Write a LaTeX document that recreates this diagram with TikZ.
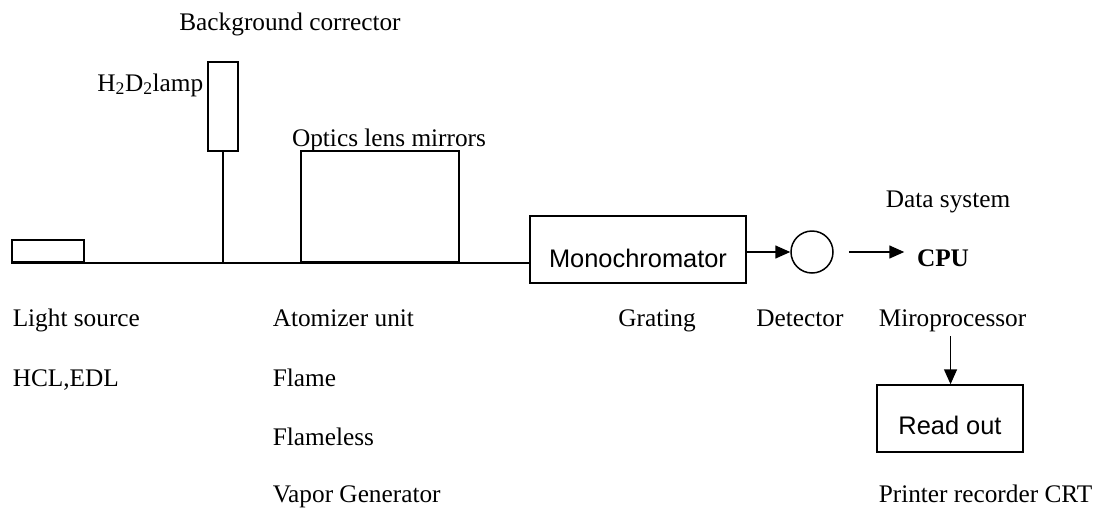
\documentclass[tikz,border=0pt]{standalone}
\usepackage{fontspec}
\setmainfont{Liberation Serif}
\setsansfont{Liberation Sans}
\usetikzlibrary{
    arrows.meta,
    calc,
    positioning
}
\tikzset{
  every path/.style={
    black,
    line width=1.5pt
  },
  box/.style={
    draw,
    rectangle,
    inner sep=0pt
  },
  lbl/.style={
    inner sep=0pt,
    font=\fontsize{25.3}{30}\selectfont
  },
  sflbl/.style={
    font=\sffamily\fontsize{25.4}{30}\selectfont
  },
  arr/.style={
    -{Triangle[length=15pt,width=13pt]}
  }
}

\begin{document}
\begin{tikzpicture}[x=1pt,y=-1pt]
    \useasboundingbox (0,0) rectangle (1099,509);

    % 箱
    \node[box,minimum width=72pt,minimum height=22pt] (src) at (48,251) {};
    \node[box,minimum width=30pt,minimum height=89pt] (lamp) at (223,106.5) {};
    \node[box,minimum width=158pt,minimum height=111pt] (optics) at (380,206.5) {};
    \node[box,sflbl,minimum width=216pt,minimum height=67pt,text height=35pt,text depth=0pt] (mono) at (638,249.5) {Monochromator};
    \node[draw,circle,minimum size=42pt,inner sep=0pt] (det) at (812,252) {};
    \node[box,sflbl,minimum width=146pt,minimum height=67pt,text height=31pt,text depth=0pt] (readout) at (950,418.5) {Read out};

    % 上の文字
    \node[lbl,anchor=base] (bgc) at (290,30) {Background corrector};
    \node[lbl,anchor=base east] (lamptxt) at (204,91) {H\textsubscript{2}D\textsubscript{2}lamp};
    \node[lbl,anchor=base] (optxt) at (389,146) {Optics lens mirrors};
    \node[lbl,anchor=base] (data) at (948,207) {Data system};
    \node[lbl,anchor=base] (cpu) at (943,266) {\textbf{CPU}};

    % 下の文字
    \node[lbl,anchor=base west] (srctxt) at (12,326) {Light source};
    \node[lbl,anchor=base west] (hcl) at (12,386) {HCL,EDL};
    \node[lbl,anchor=base west] (atom) at (272,326) {Atomizer unit};
    \node[lbl,anchor=base west] (flame) at (272,386) {Flame};
    \node[lbl,anchor=base west] (flameless) at (272,445) {Flameless};
    \node[lbl,anchor=base west] (vapor) at (272,502) {Vapor Generator};
    \node[lbl,anchor=base] (grating) at (657,326) {Grating};
    \node[lbl,anchor=base] (dettxt) at (800,326) {Detector};
    \node[lbl,anchor=base west] (micro) at (878,326) {Miroprocessor};
    \node[lbl,anchor=base west] (printer) at (878,502) {Printer recorder CRT};

    % 線
    \draw (src.south west) -- (src.south west -| mono.west);
    \draw (lamp.south) -- (lamp.south |- src.south);
    \draw[arr] (mono.east |- det.west) -- (det.west);
    \draw[arr,shorten <=15pt,shorten >=12pt] (det.east) -- (cpu.west |- det.east);
    \draw[arr] ($(micro.south)+(-2,4)$) -- (readout.north -| {$(micro.south)+(-2,4)$});
\end{tikzpicture}
\end{document}
